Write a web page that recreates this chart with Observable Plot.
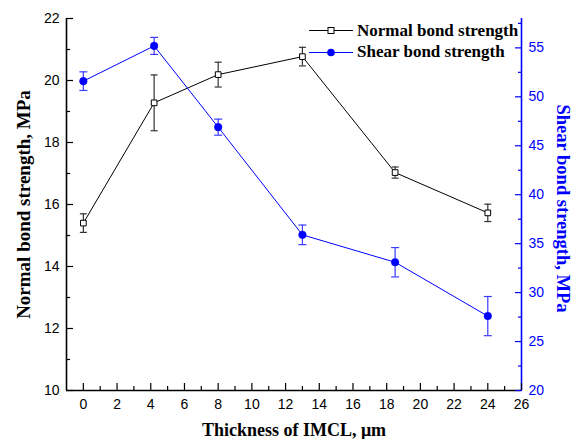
<!DOCTYPE html>
<html>
<head>
<meta charset="utf-8">
<script src="https://cdn.jsdelivr.net/npm/d3@7"></script>
<script src="https://cdn.jsdelivr.net/npm/@observablehq/plot@0.6"></script>
<style>
  html, body { margin: 0; padding: 0; background: #fff; }
  #wrap { position: relative; width: 574px; height: 439px; }
  #legend { position: absolute; left: 300px; top: 20px; font-family: "Liberation Serif", "Times New Roman", serif; font-weight: bold; font-size: 17px; color: #000; }
  #legend .row { display: flex; align-items: center; height: 21.5px; }
  #legend svg { display: block; margin-right: 4px; }
</style>
</head>
<body>
<div id="wrap">
  <div id="chart"></div>
  <div id="legend"></div>
</div>
<script>
// ---- data ----
const thickness = [0, 4.2, 8, 13, 18.5, 24];
const normalStrength = [15.4, 19.28, 20.19, 20.77, 17.03, 15.73];
const normalError = [0.3, 0.9, 0.4, 0.3, 0.18, 0.28];
const shearStrength = [51.6, 55.2, 46.9, 35.9, 33.1, 27.6];
const shearError = [0.95, 0.87, 0.82, 1.0, 1.5, 2.0];

const xTicks = [0, 2, 4, 6, 8, 10, 12, 14, 16, 18, 20, 22, 24, 26];
const xMinorTicks = [1, 3, 5, 7, 9, 11, 13, 15, 17, 19, 21, 23, 25];
const leftTicks = [10, 12, 14, 16, 18, 20, 22];
const leftMinorTicks = [11, 13, 15, 17, 19, 21];
const rightTicks = [20, 25, 30, 35, 40, 45, 50, 55];
const rightMinorTicks = [22.5, 27.5, 32.5, 37.5, 42.5, 47.5, 52.5, 57.5];

const xDomain = [-1, 26];
const leftDomain = [10, 22];
const rightDomain = [20, 58];

const legendLabels = ["Normal bond strength", "Shear bond strength"];
const xTitle = "Thickness of IMCL, μm";
const leftTitle = "Normal bond strength, MPa";
const rightTitle = "Shear bond strength, MPa";

// ---- helpers ----
const blue = "#0000ff";
const k = (leftDomain[1] - leftDomain[0]) / (rightDomain[1] - rightDomain[0]);
const toLeft = v => leftDomain[0] + (v - rightDomain[0]) * k;
const fromLeft = v => rightDomain[0] + (v - leftDomain[0]) / k;

const normal = thickness.map((x, i) => ({x, y: normalStrength[i], lo: normalStrength[i] - normalError[i], hi: normalStrength[i] + normalError[i]}));
const shear = thickness.map((x, i) => ({x, y: toLeft(shearStrength[i]), lo: toLeft(shearStrength[i] - shearError[i]), hi: toLeft(shearStrength[i] + shearError[i])}));

const cap = { draw(ctx, size) { const w = Math.sqrt(size / Math.PI); ctx.moveTo(-w, 0); ctx.lineTo(w, 0); } };

const sans = "'Liberation Sans', Arial, sans-serif";
const serif = "'Liberation Serif', 'Times New Roman', serif";

const chart = Plot.plot({
  width: 574,
  height: 439,
  marginLeft: 66,
  marginRight: 53,
  marginTop: 18,
  marginBottom: 49,
  style: {background: "#fff", overflow: "visible"},
  x: {domain: xDomain},
  y: {domain: leftDomain},
  marks: [
    // axis lines
    Plot.ruleX([xDomain[0]], {stroke: "#000", strokeWidth: 1.6}),
    Plot.ruleY([leftDomain[0]], {stroke: "#000", strokeWidth: 1.6}),
    Plot.ruleX([xDomain[1]], {stroke: blue, strokeWidth: 1.6}),
    // inward ticks
    Plot.axisX(xTicks, {anchor: "bottom", tickSize: 7, dy: -7, tickFormat: () => "", label: null, strokeWidth: 1.2}),
    Plot.axisX(xMinorTicks, {anchor: "bottom", tickSize: 4, dy: -4, tickFormat: () => "", label: null, strokeWidth: 1.2}),
    Plot.axisY(leftTicks, {anchor: "left", tickSize: 7, dx: 7, tickFormat: () => "", label: null, strokeWidth: 1.2}),
    Plot.axisY(leftMinorTicks, {anchor: "left", tickSize: 4, dx: 4, tickFormat: () => "", label: null, strokeWidth: 1.2}),
    Plot.axisY(rightTicks.map(toLeft), {anchor: "right", tickSize: 7, dx: -7, tickFormat: () => "", label: null, stroke: blue, strokeWidth: 1.2}),
    Plot.axisY(rightMinorTicks.map(toLeft), {anchor: "right", tickSize: 4, dx: -4, tickFormat: () => "", label: null, stroke: blue, strokeWidth: 1.2}),
    // tick labels
    Plot.axisX(xTicks, {anchor: "bottom", tickSize: 0, tickPadding: 9, label: null, fontSize: 14, fontFamily: sans, fill: "#000"}),
    Plot.axisY(leftTicks, {anchor: "left", tickSize: 0, tickPadding: 7, label: null, fontSize: 14, fontFamily: sans, fill: "#000"}),
    Plot.axisY(rightTicks.map(toLeft), {anchor: "right", tickSize: 0, tickPadding: 7, label: null, fontSize: 14, fontFamily: sans, fill: blue, tickFormat: d => String(Math.round(fromLeft(d)))}),
    // axis titles
    Plot.text([xTitle], {text: d => d, frameAnchor: "bottom", dy: 40, textAnchor: "middle", lineAnchor: "middle", fontSize: 18, fontWeight: "bold", fontFamily: serif, fill: "#000"}),
    Plot.text([leftTitle], {text: d => d, frameAnchor: "left", dx: -43, rotate: -90, textAnchor: "middle", lineAnchor: "middle", fontSize: 19, fontWeight: "bold", fontFamily: serif, fill: "#000"}),
    Plot.text([rightTitle], {text: d => d, frameAnchor: "right", dx: 41, dy: 4, rotate: 90, textAnchor: "middle", lineAnchor: "middle", fontSize: 18.5, fontWeight: "bold", fontFamily: serif, fill: blue}),
    // error bars
    Plot.ruleX(normal, {x: "x", y1: "lo", y2: "hi", stroke: "#333", strokeWidth: 1.2}),
    Plot.dot(normal, {x: "x", y: "lo", symbol: cap, r: 3.5, fill: "none", stroke: "#333", strokeWidth: 1.2}),
    Plot.dot(normal, {x: "x", y: "hi", symbol: cap, r: 3.5, fill: "none", stroke: "#333", strokeWidth: 1.2}),
    Plot.ruleX(shear, {x: "x", y1: "lo", y2: "hi", stroke: "#3a3aff", strokeWidth: 1.2}),
    Plot.dot(shear, {x: "x", y: "lo", symbol: cap, r: 4, fill: "none", stroke: "#3a3aff", strokeWidth: 1.2}),
    Plot.dot(shear, {x: "x", y: "hi", symbol: cap, r: 4, fill: "none", stroke: "#3a3aff", strokeWidth: 1.2}),
    // lines
    Plot.line(normal, {x: "x", y: "y", stroke: "#000", strokeWidth: 1}),
    Plot.line(shear, {x: "x", y: "y", stroke: blue, strokeWidth: 1}),
    // markers
    Plot.dot(normal, {x: "x", y: "y", symbol: "square", r: 3.2, fill: "#fff", stroke: "#000", strokeWidth: 1}),
    Plot.dot(shear, {x: "x", y: "y", symbol: "circle", r: 3.8, fill: blue, stroke: blue, strokeWidth: 0.5})
  ]
});
document.getElementById("chart").appendChild(chart);

// legend
const legend = document.getElementById("legend");
legendLabels.forEach((label, i) => {
  const row = document.createElement("div");
  row.className = "row";
  const color = i === 0 ? "#000" : blue;
  const marker = i === 0
    ? `<rect x="28" y="7.5" width="6" height="6" fill="#fff" stroke="#000" stroke-width="1"/>`
    : `<circle cx="31" cy="10.5" r="3.8" fill="${blue}"/>`;
  row.innerHTML = `<svg width="53" height="21"><line x1="9" y1="10.5" x2="53" y2="10.5" stroke="${color}" stroke-width="1"/>${marker}</svg><span>${label}</span>`;
  legend.appendChild(row);
});
</script>
</body>
</html>
